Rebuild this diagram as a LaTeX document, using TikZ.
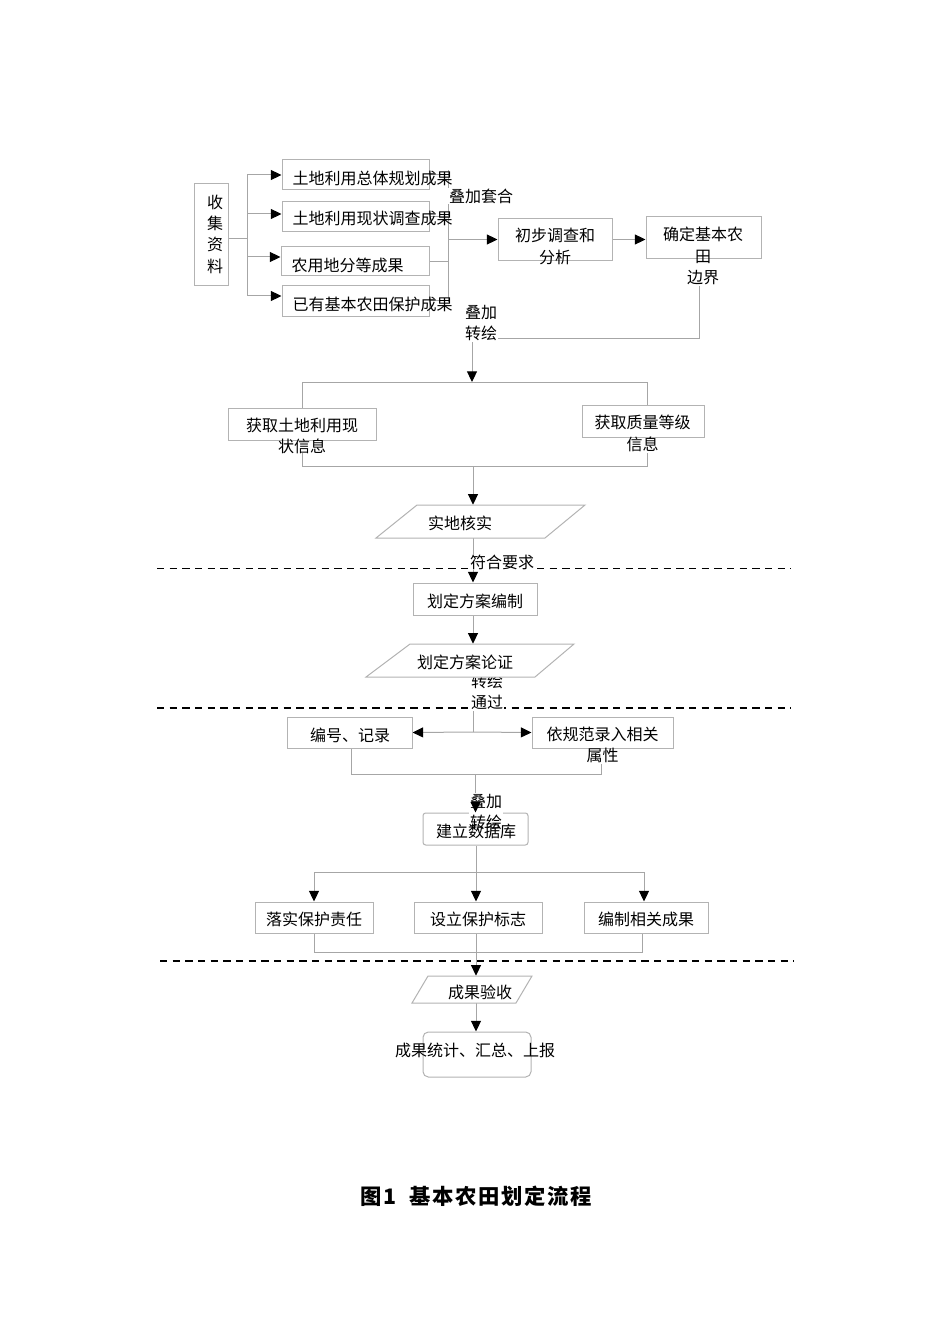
\documentclass[tikz,border=0pt]{standalone}
\usepackage{fontspec}
\newfontfamily\cjk{Noto Sans CJK SC}
\newfontfamily\capfont[LetterSpace=8]{Noto Sans CJK SC}
\usetikzlibrary{arrows.meta,calc}
\definecolor{lgray}{HTML}{A6A6A6}
\definecolor{bgray}{HTML}{B3B3B3}
\pgfdeclarelayer{back}
\pgfdeclarelayer{mid}
\pgfsetlayers{back,mid,main}
\begin{document}
\begin{tikzpicture}[x=0.75pt,y=-0.75pt,
 box/.style 2 args={draw=bgray, line width=0.75pt, fill=white, minimum width={#1*0.75pt}, minimum height={#2*0.75pt}, inner sep=0pt},
 anch/.style={inner sep=0pt, minimum width=0pt, minimum height={#1*0.75pt}},
 txt/.style={font=\cjk\fontsize{12}{16}\selectfont, align=center, inner sep=0pt},
 lbl/.style={txt, fill=white, inner sep=0.5pt},
 conn/.style={draw=lgray, line width=0.75pt},
 arr/.style={conn, -{Triangle[length=8pt,width=7.5pt,color=black]}},
 sepline/.style={draw=black, line width=1.1pt, dash pattern=on 5.5pt off 4pt},
 para/.style={draw=bgray, line width=0.75pt, fill=white}
]
\useasboundingbox (0,0) rectangle (950,1344);
% ---------- boxes ----------
\node[box={34}{102}] (collect) at (211,235) {};
\node[box={147}{30}] (r1) at (355.5,175) {};
\node[box={147}{30}] (r2) at (355.5,216.5) {};
\node[box={148}{29}] (r3) at (355,261.5) {};
\node[box={147}{30}] (r4) at (355.5,301) {};
\node[box={114}{42}] (a1) at (555,239.5) {};
\node[box={115}{42}] (a2) at (703.5,238) {};
\node[box={148}{32}] (b1) at (302,424) {};
\node[box={122}{32}] (b2) at (643,421) {};
\draw[para] (417,505) -- (585,505) -- (545,538) -- (376,538) -- cycle;
\node[anch={33}] (p1) at (473,521.5) {};
\node[box={124}{32}] (pA) at (475,599) {};
\draw[para] (410,644) -- (574,644) -- (535,677) -- (366,677) -- cycle;
\node[anch={33}] (p2) at (473,660.5) {};
\node[box={125}{31}] (e1) at (349.5,732.5) {};
\node[box={141}{31}] (e2) at (602.5,732.5) {};
\node[box={105}{32}, rounded corners=2pt] (db) at (475.5,829) {};
\node[box={118}{31}] (c1) at (314,917.5) {};
\node[box={128}{31}] (c2) at (478,917.5) {};
\node[box={124}{31}] (c3) at (646,917.5) {};
\draw[para] (428,976) -- (532,976) -- (516,1003) -- (412,1003) -- cycle;
\node[anch={27}] (p3) at (476,989.5) {};
\node[box={108}{45}, rounded corners=4pt] (fin) at (477,1054.5) {};
% ---------- connectors ----------
\begin{pgfonlayer}{back}
\coordinate (s1l) at (157,568.5); \coordinate (s1r) at (791,568.5);
\coordinate (s2l) at (157,708);   \coordinate (s2r) at (791,708);
\coordinate (s3l) at (160,961);   \coordinate (s3r) at (794,961);
\draw[sepline] (s1l) -- (s1r);
\draw[sepline] (s2l) -- (s2r);
\draw[sepline] (s3l) -- (s3r);
\coordinate (bx) at (247,239);
\coordinate (q1) at (247,175); \coordinate (q2) at (247,214);
\coordinate (q3) at (247,257); \coordinate (q4) at (247,296);
\draw[conn] (collect.east |- bx) -- (bx);
\draw[conn] (q1) -- (q4);
\draw[arr] (q1) -- (q1 -| r1.west);
\draw[arr] (q2) -- (q2 -| r2.west);
\draw[arr] (q3) -- (q3 -| r3.west);
\draw[arr] (q4) -- (q4 -| r4.west);
\coordinate (v2t) at (448,170); \coordinate (v2b) at (448,302);
\draw[conn] (v2t) -- (v2b);
\draw[conn] (r1.east) -- (r1.east -| v2t);
\draw[conn] (r2.east) -- (r2.east -| v2t);
\draw[conn] (r3.east) -- (r3.east -| v2t);
\draw[conn] (r4.east) -- (r4.east -| v2t);
\draw[arr] (a1.west -| v2t) -- (a1.west);
\draw[arr] (a1.east) -- (a1.east -| a2.west);
\coordinate (k1) at (699,286); \coordinate (k2) at (699,338);
\coordinate (k3) at (472,338); \coordinate (k4) at (472,382);
\draw[conn] (k1) -- (k2) -- (k3);
\draw[arr] (k3) -- (k4);
\coordinate (sL) at (302,382); \coordinate (sR) at (647,382);
\draw[conn] (b1.north) -- (sL) -- (sR) -- (sR |- b2.north);
\coordinate (mL) at (302,466); \coordinate (mR) at (647,466);
\coordinate (mLt) at (302,453); \coordinate (mRt) at (647,453);
\draw[conn] (mLt) -- (mL) -- (mR) -- (mRt);
\coordinate (m1) at (473,466);
\draw[arr] (m1) -- (p1.north);
\draw[arr] (p1.south) -- (p1.south |- pA.north);
\draw[arr] (p2 |- pA.south) -- (p2.north);
\coordinate (j3) at (473,732);
\draw[conn] (p2.south) -- (j3);
\draw[arr] (j3) -- (e1.east);
\draw[arr] (j3) -- (e2.west);
\coordinate (n1) at (351,774); \coordinate (n2) at (601,774);
\coordinate (n2t) at (601,764); \coordinate (m3) at (475,774);
\draw[conn] (n1 |- e1.south) -- (n1) -- (n2) -- (n2t);
\draw[conn] (m3) -- (m3 |- db.north);
\coordinate (j4) at (476,872); \coordinate (j4l) at (314,872); \coordinate (j4r) at (644,872);
\draw[conn] (db.south -| j4) -- (j4);
\draw[conn] (j4l) -- (j4r);
\draw[arr] (j4l) -- (j4l |- c1.north);
\draw[arr] (j4) -- (j4 |- c2.north);
\draw[arr] (j4r) -- (j4r |- c3.north);
\coordinate (m5l) at (314,952); \coordinate (m5r) at (642,952); \coordinate (m5) at (476,952);
\draw[conn] (c1.south) -- (m5l) -- (m5r) -- (m5r |- c3.south);
\draw[arr] (m5 |- c2.south) -- (p3.north);
\draw[arr] (p3.south) -- (p3.south |- fin.north);
\end{pgfonlayer}
% ---------- labels ----------
\begin{pgfonlayer}{mid}
\node[lbl] (L1) at (481,196) {叠加套合};
\node[lbl] (L2) at (481,323) {叠加\\转绘};
\node[lbl] (L3) at (502,562) {符合要求};
\node[lbl] (L4) at (487,692) {转绘\\通过};
\end{pgfonlayer}
\node[lbl] (L5) at (486,812) {叠加\\转绘};
\draw[arr] ([yshift=8pt]db.north) -- (db.north);
% ---------- texts ----------
\node[txt] (t0) at (215,234) {收\\集\\资\\料};
\node[txt] (t1) at (372.5,178) {土地利用总体规划成果};
\node[txt] (t2) at (372.5,218) {土地利用现状调查成果};
\node[txt] (t3) at (347.5,265) {农用地分等成果};
\node[txt] (t4) at (372.5,304) {已有基本农田保护成果};
\node[txt] (ta1) at (555,246.5) {初步调查和\\分析};
\node[txt] (ta2) at (703,256) {确定基本农\\田\\边界};
\node[txt] (tb1) at (302,436) {获取土地利用现\\状信息};
\node[txt] (tb2) at (642.5,433.5) {获取质量等级\\信息};
\node[txt] (tp1) at (460,523) {实地核实};
\node[txt] (tpA) at (475,601) {划定方案编制};
\node[txt] (tp2) at (465,662) {划定方案论证};
\node[txt] (te1) at (350,735) {编号、记录};
\node[txt] (te2) at (602.5,745) {依规范录入相关\\属性};
\node[txt] (tdb) at (476,831) {建立数据库};
\node[txt] (tc1) at (314,919) {落实保护责任};
\node[txt] (tc2) at (478,919) {设立保护标志};
\node[txt] (tc3) at (646,919) {编制相关成果};
\node[txt] (tp3) at (480,992) {成果验收};
\node[txt] (tfin) at (475,1050) {成果统计、汇总、上报};
\node[font=\capfont\bfseries\fontsize{16}{18}\selectfont, inner sep=0pt] (cap) at (476,1196) {图1\ \ 基本农田划定流程};
\end{tikzpicture}
\end{document}
